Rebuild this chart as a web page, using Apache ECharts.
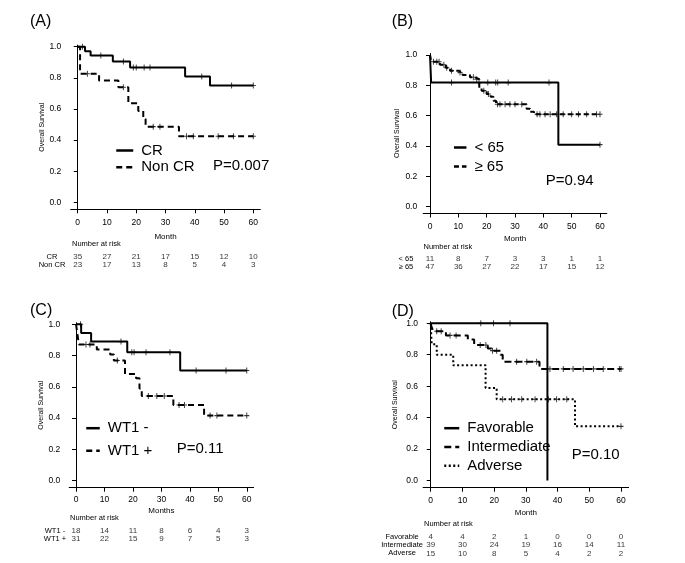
<!DOCTYPE html>
<html>
<head>
<meta charset="utf-8">
<script src="https://cdn.jsdelivr.net/npm/echarts@6/dist/echarts.min.js"></script>
<style>html,body{margin:0;background:#fff}#c{width:685px;height:563px}</style>
</head>
<body>
<div id="c"></div>
<script>
var monthTicks = [0, 10, 20, 30, 40, 50, 60];
var survTicks = [0, 0.2, 0.4, 0.6, 0.8, 1.0];

// (A) CR vs Non CR  [month, survival after the drop]
var crSteps = [[0, 1], [2.5, 0.971], [4.4, 0.943], [12, 0.905], [17.9, 0.866], [36.7, 0.808], [45.2, 0.75], [60, 0.75]];
var crCensor = [1.6, 7.9, 15.6, 19, 20, 22.7, 24.7, 42.4, 52.6, 60];
var nonCrSteps = [[0, 1], [0.8, 0.826], [7.3, 0.783], [13.9, 0.739], [17.3, 0.636], [20.7, 0.587], [22.4, 0.535], [23.2, 0.486], [34.6, 0.424], [60, 0.424]];
var nonCrCensor = [3.3, 15.6, 25.8, 28.1, 37.2, 39.5, 48, 53.2, 60];
var riskRowsA = ['CR', 'Non CR'];
var riskCR = [35, 27, 21, 17, 15, 12, 10];
var riskNonCR = [23, 17, 13, 8, 5, 4, 3];

// (B) age
var youngSteps = [[0, 1], [0.4, 0.818], [45.3, 0.409], [60, 0.409]];
var youngCensor = [7.6, 17.3, 20.4, 23.2, 23.9, 27.6, 42, 60];
var oldSteps = [[0, 1], [0.3, 0.971], [0.9, 0.956], [3.5, 0.936], [5.6, 0.916], [7.1, 0.897], [10, 0.884], [11.5, 0.868], [14.1, 0.853], [15.9, 0.84], [17.4, 0.78], [18.2, 0.765], [20, 0.743], [21.4, 0.725], [22.4, 0.699], [23.3, 0.675], [34.1, 0.646], [35.3, 0.626], [36.7, 0.609], [60, 0.609]];
var oldCensor = [1.2, 2.4, 3.2, 4.9, 5.9, 7.6, 10.6, 15.3, 16.5, 19, 20.6, 23.8, 24.7, 26.5, 28.2, 30, 32.4, 37.8, 38.8, 40.6, 42.4, 44.7, 47, 50, 52.4, 55.3, 58.8, 60];
var riskRowsB = ['< 65', '\u2265 65'];
var riskYoung = [11, 8, 7, 3, 3, 1, 1];
var riskOld = [47, 36, 27, 22, 17, 15, 12];

// (C) WT1
var wt1NegSteps = [[0, 1], [1.8, 0.944], [5.3, 0.889], [18, 0.821], [36.6, 0.704], [60, 0.704]];
var wt1NegCensor = [1.6, 15.8, 19.6, 20.4, 24.6, 33, 42.2, 52.7, 60];
var wt1PosSteps = [[0, 1], [0.5, 0.935], [1, 0.871], [7.3, 0.839], [12, 0.806], [13.3, 0.768], [17.2, 0.682], [21.1, 0.655], [22.3, 0.59], [23.1, 0.541], [34.2, 0.484], [45, 0.416], [60, 0.416]];
var wt1PosCensor = [3.5, 4.9, 14.5, 25.4, 28.4, 31, 36.2, 38.1, 47.1, 49.5, 60];
var riskRowsC = ['WT1 -', 'WT1 +'];
var riskNeg = [18, 14, 11, 8, 6, 4, 3];
var riskPos = [31, 22, 15, 9, 7, 5, 3];

// (D) cytogenetic risk
var favSteps = [[0, 1], [36.8, 0]];
var favCensor = [15.8, 19.8, 25];
var intSteps = [[0, 1], [0.3, 0.974], [0.8, 0.949], [4.8, 0.923], [11.7, 0.897], [13.7, 0.862], [18, 0.84], [19.2, 0.826], [22, 0.8], [22.7, 0.756], [34.3, 0.71], [60, 0.71]];
var intCensor = [1.9, 3.3, 6.1, 8, 15.6, 17.4, 19.5, 20.8, 27.1, 30.3, 33.4, 37.6, 41.8, 44.9, 48.1, 51.3, 54.4, 59.5, 60];
var advSteps = [[0, 1], [0.3, 0.867], [1.9, 0.8], [7.1, 0.733], [17.3, 0.589], [20.8, 0.517], [45.5, 0.345], [60, 0.345]];
var advCensor = [22.7, 25.5, 28.7, 32.9, 37.1, 39.7, 42.9, 60];
var riskRowsD = ['Favorable', 'Intermediate', 'Adverse'];
var riskFav = [4, 4, 2, 1, 0, 0, 0];
var riskInt = [39, 30, 24, 19, 16, 14, 11];
var riskAdv = [15, 10, 8, 5, 4, 2, 2];

var FONT = 'Liberation Sans, Arial, sans-serif';
var chart = echarts.init(document.getElementById('c'));

function survAt(steps, t) {
  var s = steps[0][1];
  for (var i = 0; i < steps.length; i++) if (steps[i][0] <= t) s = steps[i][1];
  return s;
}

// plot and table boxes
var plots = [
  {left: 70.7, top: 45.1, width: 189.6, height: 164.2, xm: 9, xg: 23, ym: 9.5, yg: 25.5, xname: 'Month'},
  {left: 423.2, top: 53.5, width: 183.6, height: 160, xm: 8.5, xg: 21.5, ym: 6, yg: 22.5, xname: 'Month'},
  {left: 69.2, top: 322.7, width: 184.4, height: 165, xm: 7, xg: 19, ym: 9, yg: 22, xname: 'Months'},
  {left: 423.1, top: 321.7, width: 205.5, height: 166, xm: 8, xg: 21, ym: 5, yg: 25, xname: 'Month'}
];
var tables = [
  {top: 253.2, height: 15.4, lm: 18.7, rows: riskRowsA},
  {top: 255.2, height: 15.4, lm: 17.2, rows: riskRowsB},
  {top: 526.5, height: 16.6, lm: 14.2, rows: riskRowsC},
  {top: 532.5, height: 25, lm: 21, rows: riskRowsD}
];

var grid = [], xAxis = [], yAxis = [];
plots.forEach(function (p) {
  grid.push({left: p.left, top: p.top, width: p.width, height: p.height});
  xAxis.push({
    type: 'value', gridIndex: grid.length - 1, min: -2.4, max: 62.4,
    name: p.xname, nameLocation: 'middle', nameGap: p.xg,
    nameTextStyle: {fontSize: 8, color: '#000', fontFamily: FONT},
    axisLine: {onZero: false, lineStyle: {color: '#000', width: 1}},
    axisTick: {show: true, length: 4, lineStyle: {color: '#000'}, customValues: monthTicks},
    axisLabel: {customValues: monthTicks, fontSize: 8.5, color: '#000', fontFamily: FONT, margin: p.xm},
    splitLine: {show: false}
  });
  yAxis.push({
    type: 'value', gridIndex: grid.length - 1, min: -0.045, max: 1.01,
    name: 'Overall Survival', nameLocation: 'middle', nameGap: p.yg, nameRotate: 90,
    nameTextStyle: {fontSize: 7, color: '#000', fontFamily: FONT},
    axisLine: {show: true, lineStyle: {color: '#000', width: 1}},
    axisTick: {show: true, length: 4, lineStyle: {color: '#000'}, customValues: survTicks},
    axisLabel: {customValues: survTicks, fontSize: 8.5, color: '#000', fontFamily: FONT, margin: p.ym,
      formatter: function (v) { return v.toFixed(1); }},
    splitLine: {show: false}
  });
});
tables.forEach(function (t, i) {
  var p = plots[i];
  grid.push({left: p.left, top: t.top, width: p.width, height: t.height});
  xAxis.push({type: 'value', gridIndex: grid.length - 1, min: -2.4, max: 62.4, show: false});
  yAxis.push({
    type: 'category', gridIndex: grid.length - 1, data: t.rows, inverse: true,
    axisLine: {show: false}, axisTick: {show: false}, splitLine: {show: false},
    axisLabel: {interval: 0, fontSize: 7.5, color: '#000', fontFamily: FONT, align: 'center', margin: t.lm}
  });
});

var series = [];
function curve(name, idx, steps, dash) {
  series.push({
    name: name, type: 'line', xAxisIndex: idx, yAxisIndex: idx, data: steps, step: 'end',
    symbol: 'none', silent: true,
    lineStyle: {color: '#000', width: 2, type: dash},
    itemStyle: {color: '#000'}
  });
}
function marks(idx, steps, times) {
  series.push({
    type: 'scatter', xAxisIndex: idx, yAxisIndex: idx, silent: true,
    data: times.map(function (t) { return [t, survAt(steps, t)]; }),
    symbol: 'path://M5,0L5,10M0,5L10,5', symbolSize: [5, 6],
    itemStyle: {color: 'rgba(0,0,0,0)', borderColor: '#000', borderWidth: 1}
  });
}
function risk(idx, rows, lists) {
  var data = [];
  rows.forEach(function (r, k) {
    lists[k].forEach(function (v, j) { data.push([monthTicks[j], r, v]); });
  });
  series.push({
    type: 'scatter', xAxisIndex: idx, yAxisIndex: idx, silent: true, data: data,
    symbolSize: 1, itemStyle: {color: 'rgba(0,0,0,0)'},
    label: {show: true, position: 'inside', color: '#000', fontSize: 8, fontFamily: FONT,
      formatter: function (d) { return d.value[2]; }}
  });
}

curve('CR', 0, crSteps, 'solid'); marks(0, crSteps, crCensor);
curve('Non CR', 0, nonCrSteps, [6, 4]); marks(0, nonCrSteps, nonCrCensor);
curve('< 65', 1, youngSteps, 'solid'); marks(1, youngSteps, youngCensor);
curve('\u2265 65', 1, oldSteps, [5, 3]); marks(1, oldSteps, oldCensor);
curve('WT1 -', 2, wt1NegSteps, 'solid'); marks(2, wt1NegSteps, wt1NegCensor);
curve('WT1 +', 2, wt1PosSteps, [6, 4]); marks(2, wt1PosSteps, wt1PosCensor);
curve('Favorable', 3, favSteps, 'solid'); marks(3, favSteps, favCensor);
curve('Intermediate', 3, intSteps, [7, 4]); marks(3, intSteps, intCensor);
curve('Adverse', 3, advSteps, [2, 2.5]); marks(3, advSteps, advCensor);
risk(4, riskRowsA, [riskCR, riskNonCR]);
risk(5, riskRowsB, [riskYoung, riskOld]);
risk(6, riskRowsC, [riskNeg, riskPos]);
risk(7, riskRowsD, [riskFav, riskInt, riskAdv]);

function legend(names, left, top, w, gap) {
  return {
    data: names, orient: 'vertical', left: left, top: top, itemWidth: w, itemHeight: 14,
    itemGap: gap, selectedMode: false, padding: 0,
    itemStyle: {opacity: 0},
    lineStyle: {width: 2.5},
    textStyle: {fontSize: 15, color: '#000', fontFamily: FONT, padding: [0, 0, 0, 3]}
  };
}

function txt(s, x, y, size) {
  return {type: 'text', x: x, y: y, silent: true,
    style: {text: s, fill: '#000', font: size + 'px ' + FONT, verticalAlign: 'middle'}};
}

chart.setOption({
  animation: false,
  backgroundColor: '#fff',
  grid: grid, xAxis: xAxis, yAxis: yAxis, series: series,
  legend: [
    legend(['CR', 'Non CR'], 115, 143, 17, 1.7),
    legend(['< 65', '\u2265 65'], 452.7, 140, 12.5, 4),
    legend(['WT1 -', 'WT1 +'], 85, 420.7, 13.5, 7.6),
    legend(['Favorable', 'Intermediate', 'Adverse'], 443, 420.7, 15, 3.8)
  ],
  graphic: [
    txt('(A)', 30, 22, 16), txt('(B)', 391.7, 22, 16),
    txt('(C)', 30, 311, 16), txt('(D)', 391.7, 312, 16),
    txt('P=0.007', 213, 166, 15), txt('P=0.94', 545.7, 180.7, 15),
    txt('P=0.11', 176.7, 449.3, 15), txt('P=0.10', 571.7, 455, 15),
    txt('Number at risk', 72, 244, 7.5), txt('Number at risk', 423.5, 247, 7.5),
    txt('Number at risk', 70, 518, 7.5), txt('Number at risk', 424, 524, 7.5)
  ]
});
</script>
</body>
</html>
